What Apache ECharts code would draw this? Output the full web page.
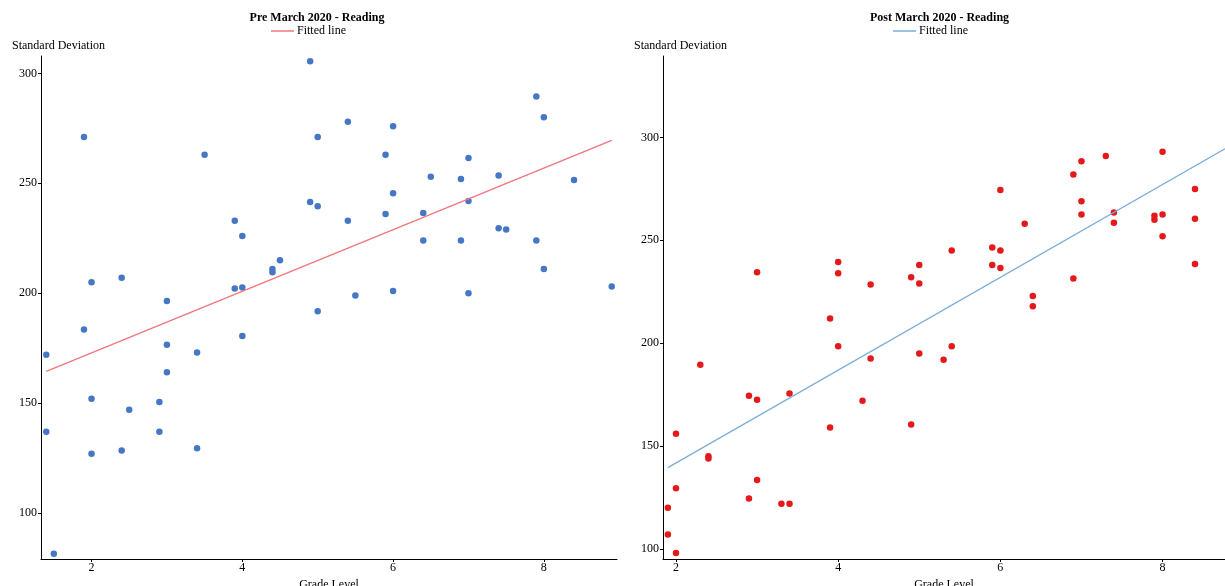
<!DOCTYPE html>
<html>
<head>
<meta charset="utf-8">
<script src="https://cdn.jsdelivr.net/npm/echarts@6/dist/echarts.min.js"></script>
<style>
  html, body { margin: 0; padding: 0; background: #fff; overflow: hidden; }
  #chart { position: absolute; left: 0; top: 0; width: 1225px; height: 586px; }
</style>
</head>
<body>
<div id="chart"></div>
<script>
// ---------- data ----------
const preGrade = [1.9, 2, 2.4, 3, 3.5, 3.9, 4, 3.9, 4, 4.4, 4.4, 4.5, 4.9, 4.9, 5, 5, 5.4, 5.4, 5.5, 5.9, 5.9, 6, 6, 6,
  6.4, 6.4, 6.5, 6.9, 6.9, 7, 7, 7, 7.4, 7.4, 7.5, 7.9, 7.9, 8, 8, 8.4, 8.9,
  1.4, 1.4, 1.5, 1.9, 2, 2, 2.4, 2.5, 2.9, 2.9, 3, 3, 3.4, 3.4, 4, 5];
const preSD = [271, 205, 207, 196.4, 263, 233, 226, 202.1, 202.6, 211, 209.5, 215, 305.5, 241.5, 271, 239.5, 278, 233, 199, 263, 236, 276, 245.5, 201,
  236.5, 224, 253, 252, 224, 261.5, 242, 200, 253.5, 229.5, 229, 289.5, 224, 280, 211, 251.5, 203,
  172, 137, 81.5, 183.5, 152, 127, 128.5, 147, 150.5, 137, 176.5, 164, 173, 129.5, 180.5, 191.8];
const preFitX = [1.4, 8.9];
const preFitY = [164.4, 269.5];

const postGrade = [3, 4, 4, 4.4, 4.9, 5, 5, 5.4, 5.9, 5.9, 6, 6, 6, 6.3, 6.4, 6.4, 6.9, 6.9, 7, 7, 7, 7.3, 7.4, 7.4,
  7.9, 7.9, 8, 8, 8, 8.4, 8.4, 8.4,
  1.9, 1.9, 2, 2, 2, 2.3, 2.4, 2.4, 2.9, 2.9, 3, 3, 3.3, 3.4, 3.4, 3.9, 3.9, 4, 4.3, 4.4, 4.9, 5, 5.3, 5.4];
const postSD = [234.5, 239.5, 234, 228.5, 232, 238, 229, 245, 246.5, 238, 274.5, 245, 236.5, 258, 223, 218, 282, 231.5, 288.5, 269, 262.5, 291, 263.5, 258.5,
  262, 260, 293, 262.5, 252, 275, 260.5, 238.5,
  120, 107, 156, 129.5, 98, 189.5, 145, 144, 174.5, 124.5, 172.5, 133.5, 122, 122, 175.5, 212, 159, 198.5, 172, 192.5, 160.5, 195, 192, 198.5];
const postFitX = [1.9, 8.77];
const postFitY = [139.5, 294.5];

const xTickValues = [2, 4, 6, 8];
const yTickValues = [100, 150, 200, 250, 300];

const titles = ['Pre March 2020 - Reading', 'Post March 2020 - Reading'];
const legendLabel = 'Fitted line';
const yName = 'Standard Deviation';
const xName = 'Grade Level';

// ---------- build ----------
const FONT = '"Liberation Serif", "DejaVu Serif", serif';
const pair = (xs, ys) => xs.map((x, i) => [x, ys[i]]);

const panels = [
  { title: titles[0], titleX: 317, yNameX: 12, legendLeft: 271,
    gridLeft: 41, gridWidth: 576,
    xMin: 1.33, xMax: 8.97, yMin: 79.1, yMax: 307.9,
    xs: preGrade, ys: preSD, fitX: preFitX, fitY: preFitY,
    pointColor: '#4677c6', lineColor: '#ef767b', lineName: legendLabel },
  { title: titles[1], titleX: 939.5, yNameX: 634, legendLeft: 893,
    gridLeft: 663, gridWidth: 562,
    xMin: 1.84, xMax: 8.77, yMin: 95.1, yMax: 339.6,
    xs: postGrade, ys: postSD, fitX: postFitX, fitY: postFitY,
    pointColor: '#e3191c', lineColor: '#7aaedb', lineName: legendLabel + ' ' }
];

const axisLine = { show: true, onZero: false, lineStyle: { color: '#000', width: 1 } };
const tickStyle = { show: true, inside: false, length: 3, lineStyle: { color: '#000', width: 1 } };
const labelStyle = { color: '#000', fontFamily: FONT, fontSize: 12 };

const option = {
  animation: false,
  textStyle: { fontFamily: FONT },
  graphic: [],
  legend: [],
  grid: [],
  xAxis: [],
  yAxis: [],
  series: []
};

panels.forEach((p, i) => {
  option.graphic.push(
    { type: 'text', x: p.titleX, y: 18, silent: true,
      style: { text: p.title, fill: '#000', font: 'bold 12px ' + FONT, textAlign: 'center', textVerticalAlign: 'middle' } },
    { type: 'text', x: p.yNameX, y: 46, silent: true,
      style: { text: yName, fill: '#000', font: '12px ' + FONT, textAlign: 'left', textVerticalAlign: 'middle' } }
  );
  option.legend.push({
    data: [p.lineName], left: p.legendLeft, top: 25, padding: 0,
    icon: 'rect', itemWidth: 23, itemHeight: 1.5, itemGap: 5,
    formatter: n => n.trim(),
    textStyle: { fontFamily: FONT, fontSize: 12, color: '#000', padding: [0, 0, 0, -2] },
    selectedMode: false
  });
  option.grid.push({ left: p.gridLeft, top: 56, width: p.gridWidth, height: 503,
    containLabel: false, outerBoundsMode: 'none' });
  option.xAxis.push({
    gridIndex: i, type: 'value', min: p.xMin, max: p.xMax,
    name: xName, nameLocation: 'middle', nameGap: 13,
    nameTextStyle: { fontFamily: FONT, fontSize: 12, color: '#000' },
    axisLine: axisLine, splitLine: { show: false },
    axisTick: Object.assign({}, tickStyle, { customValues: xTickValues }),
    axisLabel: Object.assign({}, labelStyle, { customValues: xTickValues, margin: 3 })
  });
  option.yAxis.push({
    gridIndex: i, type: 'value', min: p.yMin, max: p.yMax,
    axisLine: axisLine, splitLine: { show: false },
    axisTick: Object.assign({}, tickStyle, { customValues: yTickValues }),
    axisLabel: Object.assign({}, labelStyle, { customValues: yTickValues, margin: 4 })
  });
  option.series.push(
    { type: 'scatter', name: 'points' + i, xAxisIndex: i, yAxisIndex: i,
      data: pair(p.xs, p.ys), symbolSize: 6.5,
      itemStyle: { color: p.pointColor, opacity: 1 } },
    { type: 'line', name: p.lineName, xAxisIndex: i, yAxisIndex: i,
      data: pair(p.fitX, p.fitY), showSymbol: false, symbol: 'none',
      lineStyle: { color: p.lineColor, width: 1.3 }, itemStyle: { color: p.lineColor } }
  );
});

const chart = echarts.init(document.getElementById('chart'), null, { renderer: 'canvas' });
chart.setOption(option);
</script>
</body>
</html>
